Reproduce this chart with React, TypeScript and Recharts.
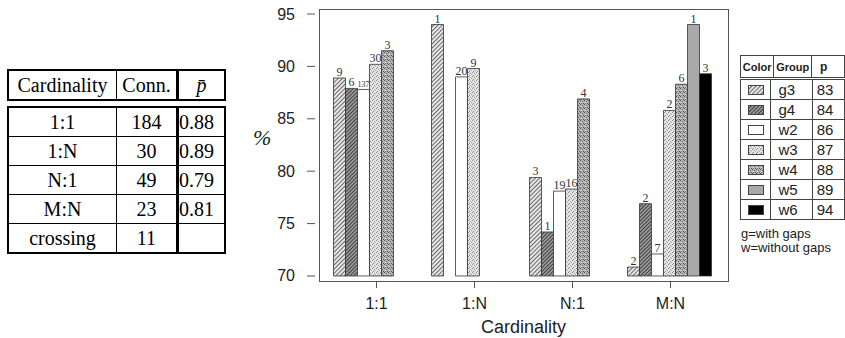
import React from 'react';
import { BarChart, Bar, XAxis, YAxis, LabelList } from 'recharts';

const categories = ['1:1', '1:N', 'N:1', 'M:N'];
const groupNames = ['g3', 'g4', 'w2', 'w3', 'w4', 'w5', 'w6'];
const groupP = [83, 84, 86, 87, 88, 89, 94];

const g3 = [88.9, 94.0, 79.4, 70.85];
const g4 = [87.9, null, 74.2, 76.9];
const w2 = [87.8, 89.0, 78.1, 72.1];
const w3 = [90.2, 89.8, 78.3, 85.8];
const w4 = [91.5, null, 86.9, 88.3];
const w5 = [null, null, null, 94.0];
const w6 = [null, null, null, 89.3];

const g3n = [9, 1, 3, 2];
const g4n = [6, null, 1, 2];
const w2n = [137, 20, 19, 7];
const w3n = [30, 9, 16, 2];
const w4n = [3, null, 4, 6];
const w5n = [null, null, null, 1];
const w6n = [null, null, null, 3];

const yTicks = [70, 75, 80, 85, 90, 95];
const BASE = 70;

const tableRows = [
  ['1:1', '184', '0.88'],
  ['1:N', '30', '0.89'],
  ['N:1', '49', '0.79'],
  ['M:N', '23', '0.81'],
  ['crossing', '11', ''],
];

const SERIF = "'Times New Roman', 'Liberation Serif', 'DejaVu Serif', serif";
const SANS = "'Liberation Sans', Arial, Helvetica, sans-serif";

const values: Record<string, (number | null)[]> = { g3, g4, w2, w3, w4, w5, w6 };
const counts: Record<string, (number | null)[]> = { g3: g3n, g4: g4n, w2: w2n, w3: w3n, w4: w4n, w5: w5n, w6: w6n };

const data = categories.map((c, i) => {
  const row: any = { cat: c };
  groupNames.forEach((g) => {
    row[g] = values[g][i];
    row[g + 'n'] = counts[g][i];
  });
  return row;
});

const fills: Record<string, string> = {
  g3: 'url(#pg3)',
  g4: 'url(#pg4)',
  w2: '#ffffff',
  w3: 'url(#pw3)',
  w4: 'url(#pw4)',
  w5: '#a9a9a9',
  w6: '#000000',
};

const BarLabel = (props: any) => {
  const { x, y, width, value } = props;
  if (value == null || x == null || y == null) return null;
  const s = String(value);
  return (
    <text x={x + width / 2} y={y - 2} textAnchor="middle" fontFamily={SERIF} fontSize={s.length > 2 ? 8 : 12} fill="#333">
      {s}
    </text>
  );
};

const YTick = (props: any) => {
  const { x, y, payload } = props;
  return (
    <g>
      <line x1={x - 12} x2={x - 4} y1={y} y2={y} stroke="#555" strokeWidth={1} />
      <text x={x - 24} y={y} dy={5.5} textAnchor="end" fontSize={16} fontFamily={SANS} fill="#222">
        {payload.value}
      </text>
    </g>
  );
};

const Patterns = () => (
  <svg width={0} height={0} style={{ position: 'absolute', left: 0, top: 0 }}>
    <defs>
      <pattern id="pg3" width={3} height={3} patternUnits="userSpaceOnUse" patternTransform="rotate(45)">
        <rect width={3} height={3} fill="#e6e6e6" />
        <line x1={0.5} y1={0} x2={0.5} y2={3} stroke="#6a6a6a" strokeWidth={1} />
      </pattern>
      <pattern id="pg4" width={2.6} height={2.6} patternUnits="userSpaceOnUse" patternTransform="rotate(45)">
        <rect width={2.6} height={2.6} fill="#a0a0a0" />
        <line x1={0.5} y1={0} x2={0.5} y2={2.6} stroke="#3a3a3a" strokeWidth={1} />
      </pattern>
      <pattern id="pw3" width={4} height={4} patternUnits="userSpaceOnUse">
        <rect width={4} height={4} fill="#e4e4e4" />
        <rect x={0} y={0} width={1} height={1} fill="#8a8a8a" />
        <rect x={2} y={1} width={1} height={1} fill="#9a9a9a" />
        <rect x={1} y={3} width={1} height={1} fill="#8a8a8a" />
        <rect x={3} y={2} width={1} height={1} fill="#b0b0b0" />
      </pattern>
      <pattern id="pw4" width={4} height={4} patternUnits="userSpaceOnUse">
        <rect width={4} height={4} fill="#b4b4b4" />
        <rect x={0} y={0} width={1} height={1} fill="#555" />
        <rect x={2} y={1} width={1} height={1} fill="#666" />
        <rect x={1} y={2} width={1} height={1} fill="#e0e0e0" />
        <rect x={3} y={3} width={1} height={1} fill="#555" />
        <rect x={1} y={3} width={1} height={1} fill="#777" />
      </pattern>
    </defs>
  </svg>
);

const cellBase: React.CSSProperties = {
  border: '1.5px solid #000',
  padding: 0,
  textAlign: 'center',
  height: 28,
  fontFamily: SERIF,
  fontSize: 20,
};

const colW = [107, 59, 45];

const LeftTable = () => (
  <>
    <table style={{ position: 'absolute', left: 7, top: 69, borderCollapse: 'collapse', fontFamily: SERIF, fontSize: 20, border: '2px solid #000', tableLayout: 'fixed' }}>
      <tbody>
        <tr>
          <td style={{ ...cellBase, width: colW[0] }}>Cardinality</td>
          <td style={{ ...cellBase, width: colW[1] }}>Conn.</td>
          <td style={{ ...cellBase, width: colW[2], borderLeft: '3px solid #000', fontStyle: 'italic' }}>p&#772;</td>
        </tr>
      </tbody>
    </table>
    <table style={{ position: 'absolute', left: 7, top: 106, borderCollapse: 'collapse', fontFamily: SERIF, fontSize: 20, border: '2px solid #000', tableLayout: 'fixed' }}>
      <tbody>
        {tableRows.map((r, i) => (
          <tr key={i}>
            <td style={{ ...cellBase, width: colW[0] }}>{r[0]}</td>
            <td style={{ ...cellBase, width: colW[1] }}>{r[1]}</td>
            <td style={{ ...cellBase, width: colW[2], borderLeft: '3px solid #000', textAlign: 'left' }}>{r[2]}</td>
          </tr>
        ))}
      </tbody>
    </table>
  </>
);

const lCell: React.CSSProperties = {
  border: '1px solid #444',
  padding: 0,
  height: 19,
  fontFamily: SANS,
  color: '#222',
};

const Legend = () => (
  <>
    <table style={{ position: 'absolute', left: 740, top: 55, borderCollapse: 'collapse', tableLayout: 'fixed', border: '1px solid #444' }}>
      <tbody>
        <tr>
          <td style={{ ...lCell, width: 34, height: 21, fontSize: 11, fontWeight: 'bold', textAlign: 'center' }}>Color</td>
          <td style={{ ...lCell, width: 38, height: 21, fontSize: 11, fontWeight: 'bold', textAlign: 'center' }}>Group</td>
          <td style={{ ...lCell, width: 31, height: 21, fontSize: 12, fontWeight: 'bold', paddingLeft: 8 }}>p</td>
        </tr>
      </tbody>
    </table>
    <table style={{ position: 'absolute', left: 740, top: 79, borderCollapse: 'collapse', tableLayout: 'fixed', border: '1px solid #444' }}>
      <tbody>
        {groupNames.map((g, i) => (
          <tr key={g}>
            <td style={{ ...lCell, width: 34, textAlign: 'center' }}>
              <svg width={16} height={10} style={{ display: 'block', margin: '0 auto' }}>
                <rect x={0.5} y={0.5} width={15} height={9} fill={fills[g]} stroke="#444" strokeWidth={1} />
              </svg>
            </td>
            <td style={{ ...lCell, width: 38, fontSize: 15, paddingLeft: 7 }}>{g}</td>
            <td style={{ ...lCell, width: 31, fontSize: 15, paddingLeft: 4 }}>{groupP[i]}</td>
          </tr>
        ))}
      </tbody>
    </table>
    <div style={{ position: 'absolute', left: 741, top: 227, fontFamily: SANS, fontSize: 13, lineHeight: '14px', color: '#222' }}>
      g=with gaps
      <br />
      w=without gaps
    </div>
  </>
);

export default function App() {
  return (
    <div style={{ position: 'absolute', left: 0, top: 0, width: 845, height: 338, background: '#fff', overflow: 'hidden' }}>
      <Patterns />
      <LeftTable />
      <Legend />
      <div style={{ position: 'absolute', left: 253, top: 125, fontFamily: SERIF, fontStyle: 'italic', fontSize: 22, color: '#222' }}>%</div>
      <div style={{ position: 'absolute', left: 0, top: 0 }}>
        <BarChart width={845} height={338} data={data} margin={{ top: 9, right: 117, bottom: 7, left: 259 }} barGap={0} barCategoryGap={6}>
          <XAxis
            dataKey="cat"
            height={50}
            padding={{ left: 8.5, right: 8.5 }}
            tickSize={7}
            tickMargin={10}
            axisLine={false}
            stroke="#555"
            tick={{ fontSize: 16, fontFamily: SANS, fill: '#222' }}
            label={{ value: 'Cardinality', position: 'insideBottom', offset: -2, fontSize: 18, fontFamily: SANS, fill: '#222' }}
          />
          <YAxis
            width={60}
            domain={[69.52, 95.48]}
            ticks={yTicks}
            type="number"
            allowDataOverflow
            axisLine={false}
            tickLine={false}
            tickSize={0}
            tickMargin={0}
            tick={<YTick />}
          />
          {groupNames.map((g) => (
            <Bar
              key={g}
              dataKey={(d: any) => (d[g] == null ? null : [BASE, d[g]])}
              fill={fills[g]}
              stroke="#333"
              strokeWidth={0.8}
              isAnimationActive={false}
            >
              <LabelList dataKey={g + 'n'} content={<BarLabel />} />
            </Bar>
          ))}
        </BarChart>
      </div>
      <div style={{ position: 'absolute', left: 319, top: 9, width: 408, height: 271, border: '1px solid #555', pointerEvents: 'none' }} />
    </div>
  );
}
